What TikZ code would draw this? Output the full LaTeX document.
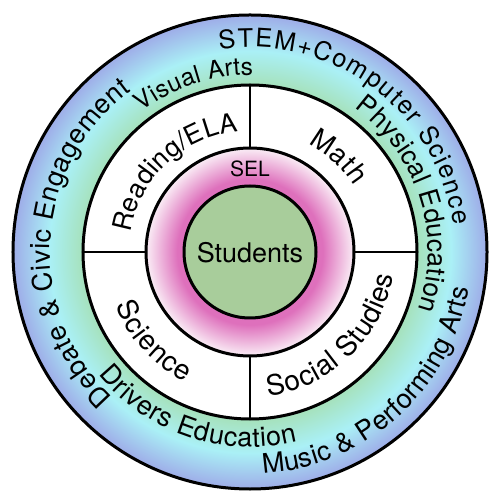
\documentclass[tikz,border=0pt]{standalone}
\usepackage{fontspec}
\setmainfont{TeX Gyre Heros}
\usetikzlibrary{decorations.text}
\definecolor{ringgreen}{RGB}{166,226,190}
\definecolor{ringcyan}{RGB}{170,240,246}
\definecolor{ringblue}{RGB}{158,172,232}
\definecolor{pinkdeep}{RGB}{222,112,188}
\definecolor{pinklight}{RGB}{250,238,246}
\definecolor{studgreen}{RGB}{168,205,155}
\pgfdeclareradialshading{outerring}{\pgfpoint{0bp}{0bp}}{color(0bp)=(ringgreen); color(17.8bp)=(ringgreen); color(21.2bp)=(ringcyan); color(25bp)=(ringblue); color(50bp)=(ringblue)}
\pgfdeclareradialshading{selring}{\pgfpoint{0bp}{0bp}}{color(0bp)=(pinkdeep); color(16bp)=(pinkdeep); color(17.5bp)=(pinkdeep); color(25bp)=(pinklight); color(50bp)=(pinklight)}
\begin{document}
\begin{tikzpicture}[x=1pt,y=1pt,
  ringline/.style={line width=3pt},
  divider/.style={line width=2pt},
  arctext/.style={decorate, decoration={text along path, text align={fit to path}}}
]
\useasboundingbox (-250,-250) rectangle (250,252);
\coordinate (c) at (0,0);
% fills
\shade[shading=outerring] (c) circle[radius=237pt];
\fill[white] (c) circle[radius=167pt];
\shade[shading=selring] (c) circle[radius=104pt];
\fill[studgreen] (c) circle[radius=66pt];
% dividers
\foreach \a in {0,90,180,270} \draw[divider] (\a:104pt) -- (\a:167pt);
% circles
\draw[ringline] (c) circle[radius=237pt];
\draw[ringline] (c) circle[radius=167pt];
\draw[ringline] (c) circle[radius=104pt];
\draw[ringline] (c) circle[radius=66pt];
% centre labels
\node[font=\fontsize{27}{27}\selectfont] (students) at (0,-1) {Students};
\node[font=\fontsize{21}{21}\selectfont] (sel) at (0,83) {SEL};
% outer ring texts
\path[arctext, decoration={text={|\fontsize{25.5}{25.5}\selectfont|STEM+Computer Science}}]
  (98.6:205pt) arc[start angle=98.6, end angle=7.5, radius=205pt];
\path[arctext, decoration={text={|\fontsize{24.5}{24.5}\selectfont|Visual Arts}}]
  (127.7:177pt) arc[start angle=127.7, end angle=89, radius=177pt];
\path[arctext, decoration={text={|\fontsize{26.5}{26.5}\selectfont|Physical Education}}]
  (54:178pt) arc[start angle=54, end angle=-19, radius=178pt];
\path[arctext, decoration={text={|\fontsize{27}{27}\selectfont|Debate {\&} Civic Engagement}}]
  (226.5:200pt) arc[start angle=226.5, end angle=126.3, radius=200pt];
\path[arctext, decoration={text={|\fontsize{27}{27}\selectfont|Drivers Education}}]
  (219:195pt) arc[start angle=219, end angle=284, radius=195pt];
\path[arctext, decoration={text={|\fontsize{27}{27}\selectfont|Music {\&} Performing Arts}}]
  (273.4:222pt) arc[start angle=273.4, end angle=350.5, radius=222pt];
% quadrant texts
\path[arctext, decoration={text={|\fontsize{26.5}{26.5}\selectfont|Reading/ELA}}]
  (171:121pt) arc[start angle=171, end angle=95.7, radius=121pt];
\path[arctext, decoration={text={|\fontsize{27.5}{27.5}\selectfont|Math}}]
  (61.8:123pt) arc[start angle=61.8, end angle=32.4, radius=123pt];
\path[arctext, decoration={text={|\fontsize{28}{28}\selectfont|Science}}]
  (201.7:145pt) arc[start angle=201.7, end angle=243.5, radius=145pt];
\path[arctext, decoration={text={|\fontsize{28}{28}\selectfont|Social Studies}}]
  (277.4:145pt) arc[start angle=277.4, end angle=350.6, radius=145pt];
\end{tikzpicture}
\end{document}
